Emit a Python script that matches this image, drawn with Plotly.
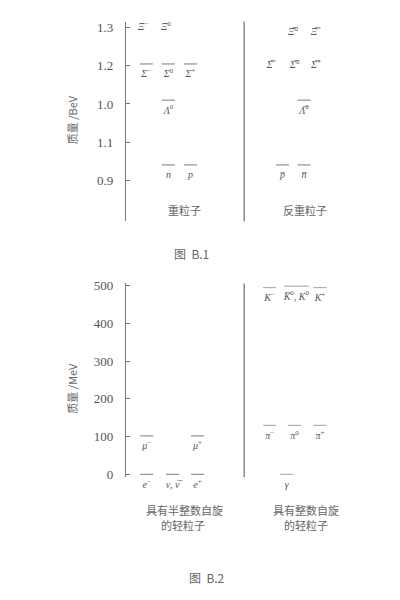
import plotly.graph_objects as go

# ---------------- data ----------------
# Figure B.1 (baryons, BeV)
bary_tickvals = [0.9, 1.0, 1.1, 1.2, 1.3]
bary_ticktext = ["0.9", "1.1", "1.0", "1.2", "1.3"]   # as printed in the source

baryon_labels = ["<i>Σ</i><sup>−</sup>", "<i>Σ</i><sup>0</sup>", "<i>Σ</i><sup>+</sup>",
                 "<i>Λ</i><sup>0</sup>", "<i>n</i>", "<i>p</i>"]
baryon_col = [1.0, 2.0, 3.0, 2.0, 2.0, 3.0]
baryon_mass = [1.205, 1.205, 1.205, 1.11, 0.94, 0.94]

xi_labels = ["<i>Ξ</i><sup>−</sup>", "<i>Ξ</i><sup>0</sup>"]
xi_col = [0.86, 1.89]
xi_mass = [1.30, 1.30]

anti_labels = ["<i>Λ̅</i><sup>0</sup>", "<i>p̅</i>", "<i>n̅</i>"]
anti_col = [8.14, 7.16, 8.14]
anti_mass = [1.11, 0.94, 0.94]

antisigma_labels = ["<i>Σ̅</i><sup>−</sup>", "<i>Σ̅</i><sup>0</sup>", "<i>Σ̅</i><sup>+</sup>"]
antisigma_col = [6.67, 7.72, 8.68]
antisigma_mass = [1.20, 1.20, 1.20]

antixi_labels = ["<i>Ξ̅</i><sup>0</sup>", "<i>Ξ̅</i><sup>−</sup>"]
antixi_col = [7.64, 8.68]
antixi_mass = [1.287, 1.287]

# Figure B.2 (light particles, MeV)
light_tickvals = [0, 100, 200, 300, 400, 500]

lepton_labels = ["<i>μ</i><sup>−</sup>", "<i>μ</i><sup>+</sup>", "<i>e</i><sup>−</sup>",
                 "<i>ν</i>, <i>ν̅</i>", "<i>e</i><sup>+</sup>"]
lepton_col = [1.02, 3.32, 1.02, 2.19, 3.32]
lepton_mass = [102, 102, 0.5, 0.5, 0.5]

meson_labels = ["<i>K</i><sup>−</sup>", "<i>K̅</i><sup>0</sup>, <i>K</i><sup>0</sup>", "<i>K</i><sup>+</sup>",
                "<i>π</i><sup>−</sup>", "<i>π</i><sup>0</sup>", "<i>π</i><sup>+</sup>", "<i>γ</i>"]
meson_col = [6.58, 7.79, 8.86, 6.58, 7.71, 8.86, 7.35]
meson_mass = [494, 498, 494, 130, 130, 130, 0.5]
meson_width = [13, 25, 13, 13, 13, 13, 13]

# ---------------- style ----------------
LINE = "#7a7a7a"
TXT = "#555555"
SERIF = "Liberation Serif, Times New Roman, serif"
CJK = "Noto Sans CJK SC"
LAB_FONT = dict(family=SERIF, size=10, color=TXT)
W, H = 400, 600
OFF = 8  # default page margin of the browser shifts the figure by this many px


def px_x(p):  # screen px -> paper x
    return (p - OFF) / W


def px_y(p):  # screen px -> paper y
    return 1 - (p - OFF) / H


fig = go.Figure()


def levels(x, y, labels, xa, ya, widths=13):
    sizes = [w / 1.4 for w in widths] if isinstance(widths, list) else widths / 1.4
    fig.add_trace(go.Scatter(
        x=x, y=y, mode="markers", xaxis=xa, yaxis=ya, hoverinfo="skip", cliponaxis=False,
        marker=dict(symbol="line-ew", size=sizes, color=LINE,
                    line=dict(width=1, color=LINE)),
        showlegend=False))
    fig.add_trace(go.Scatter(
        x=x, y=y, mode="markers+text", text=labels, textposition="bottom center",
        marker=dict(size=8, opacity=0), textfont=LAB_FONT, cliponaxis=False,
        xaxis=xa, yaxis=ya, hoverinfo="skip", showlegend=False))


def labels_only(x, y, labels, xa, ya):
    fig.add_trace(go.Scatter(
        x=x, y=y, mode="text", text=labels, textposition="middle center", cliponaxis=False,
        textfont=LAB_FONT, xaxis=xa, yaxis=ya, hoverinfo="skip", showlegend=False))


levels(baryon_col, baryon_mass, baryon_labels, "x", "y")
labels_only(xi_col, xi_mass, xi_labels, "x", "y")
levels(anti_col, anti_mass, anti_labels, "x", "y")
labels_only(antisigma_col, antisigma_mass, antisigma_labels, "x", "y")
labels_only(antixi_col, antixi_mass, antixi_labels, "x", "y")

levels(lepton_col, lepton_mass, lepton_labels, "x2", "y2")
levels(meson_col, meson_mass, meson_labels, "x2", "y2", widths=meson_width)

# column units: col 1 at screen px 146.3, 22.1 px per column
XRANGE = [(OFF - 146.3) / 22.1 + 1, (OFF + W - 146.3) / 22.1 + 1]

yaxis_common = dict(
    anchor="free", position=px_x(125), showline=True, linecolor=LINE, linewidth=1.3,
    ticks="inside", ticklen=4, tickcolor=LINE, tickwidth=1.2,
    showgrid=False, zeroline=False, ticklabelstandoff=9,
    tickfont=dict(family=SERIF, size=13, color=TXT))

fig.update_layout(
    width=W, height=H, margin=dict(l=0, r=0, t=0, b=0),
    paper_bgcolor="white", plot_bgcolor="rgba(0,0,0,0)",
    xaxis=dict(domain=[0, 1], range=XRANGE, visible=False, anchor="y"),
    yaxis=dict(domain=[px_y(220), px_y(16.7)], range=[0.7916, 1.3163],
               tickvals=bary_tickvals, ticktext=bary_ticktext, **yaxis_common),
    xaxis2=dict(domain=[0, 1], range=XRANGE, visible=False, anchor="y2"),
    yaxis2=dict(domain=[px_y(480), px_y(283)], range=[-7.0, 505.2],
                tickvals=light_tickvals, **yaxis_common),
)

# right-hand separator lines (start of anti-particle / integer-spin groups)
fig.add_shape(type="line", xref="x", yref="y domain", x0=5.43, x1=5.43, y0=0, y1=1,
              line=dict(color=LINE, width=1.3))
fig.add_shape(type="line", xref="x2", yref="y2 domain", x0=5.43, x1=5.43, y0=0, y1=1,
              line=dict(color=LINE, width=1.3))


def note(text, xp, yp, size=11, angle=0, family=CJK):
    fig.add_annotation(text=text, x=px_x(xp), y=px_y(yp), xref="paper", yref="paper",
                       showarrow=False, textangle=angle, xanchor="center", yanchor="middle",
                       font=dict(family=family, size=size, color="#666666"))


note("质量 /BeV", 72, 117, size=11, angle=-90)
note("质量 /MeV", 72, 390, size=11, angle=-90)
note("重粒子", 184, 208)
note("反重粒子", 305, 208)
note("图  B.1", 191, 253, size=12)
note("具有半整数自旋", 184, 513)
note("的轻粒子", 183, 529)
note("具有整数自旋", 306, 513)
note("的轻粒子", 306, 529)
note("图  B.2", 207, 582, size=12)

fig.write_html("out.html")
